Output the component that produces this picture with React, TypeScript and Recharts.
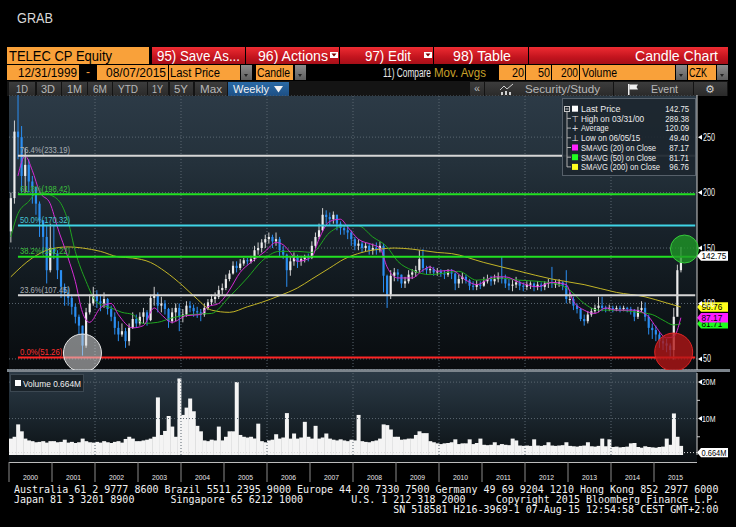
import React from 'react';
import {
  ComposedChart,
  Bar,
  Line,
  XAxis,
  YAxis,
  CartesianGrid,
  ReferenceLine,
  ReferenceDot,
} from 'recharts';

// ---------- categories ----------
const years = ['2000', '2001', '2002', '2003', '2004', '2005', '2006', '2007', '2008', '2009', '2010', '2011', '2012', '2013', '2014', '2015'];
const monthCodes = ['01', '02', '03', '04', '05', '06', '07', '08', '09', '10', '11', '12'];
const months: string[] = years.flatMap((y) => monthCodes.map((m) => `${y}-${m}`));

// ---------- monthly price (CZK) ----------
const firstOpen = 165;
const closeByYear: number[][] = [
  [195, 255, 250, 215, 225, 210, 205, 190, 175, 160, 130, 150],
  [145, 130, 115, 110, 105, 97, 88, 80, 62, 92, 100, 108],
  [102, 100, 104, 95, 88, 78, 72, 75, 66, 78, 86, 82],
  [88, 92, 85, 105, 108, 98, 100, 95, 84, 92, 96, 88],
  [90, 98, 96, 93, 92, 90, 96, 101, 104, 106, 112, 114],
  [122, 127, 134, 132, 136, 139, 138, 140, 148, 150, 155, 158],
  [160, 156, 158, 148, 144, 130, 138, 142, 138, 140, 142, 141],
  [152, 160, 166, 180, 178, 176, 180, 172, 168, 166, 164, 158],
  [152, 154, 150, 152, 148, 150, 148, 152, 125, 108, 125, 128],
  [126, 118, 120, 126, 128, 130, 140, 132, 130, 131, 128, 129],
  [127, 126, 128, 127, 118, 122, 124, 121, 116, 115, 117, 116],
  [120, 122, 120, 122, 124, 122, 118, 116, 117, 119, 116, 115],
  [117, 118, 115, 117, 115, 118, 119, 118, 118, 119, 116, 104],
  [104, 98, 95, 86, 84, 90, 93, 96, 98, 96, 95, 96],
  [95, 96, 95, 96, 95, 94, 88, 94, 96, 88, 78, 76],
  [72, 66, 64, 62, 58, 88, 130, 142.75],
];
const highByYear: number[][] = [
  [200, 265, 289.38, 260, 240, 230, 215, 205, 192, 175, 170, 172],
  [170, 148, 130, 118, 115, 108, 100, 90, 80, 96, 108, 115],
  [112, 108, 110, 105, 98, 92, 84, 82, 78, 82, 92, 90],
  [92, 96, 94, 108, 115, 110, 106, 103, 96, 96, 100, 100],
  [95, 102, 102, 99, 97, 95, 100, 104, 108, 110, 116, 118],
  [126, 130, 138, 138, 140, 141, 141, 143, 152, 155, 158, 162],
  [164, 162, 164, 160, 152, 145, 142, 146, 144, 143, 144, 145],
  [156, 164, 172, 186, 184, 182, 183, 180, 174, 170, 170, 166],
  [160, 158, 156, 155, 154, 154, 155, 156, 154, 126, 130, 132],
  [131, 126, 124, 130, 131, 134, 148, 149, 134, 134, 133, 132],
  [131, 130, 131, 131, 128, 126, 128, 126, 122, 120, 121, 120],
  [124, 126, 125, 126, 128, 142, 126, 122, 121, 124, 121, 119],
  [120, 120, 119, 120, 119, 120, 122, 133, 121, 122, 120, 130],
  [110, 106, 100, 96, 90, 93, 96, 99, 106, 106, 98, 99],
  [98, 98, 98, 98, 97, 97, 95, 97, 102, 101, 90, 82],
  [80, 74, 70, 68, 64, 96, 135, 151],
];
const lowByYear: number[][] = [
  [155, 190, 230, 200, 200, 200, 190, 180, 160, 145, 118, 128],
  [140, 122, 105, 98, 98, 90, 82, 72, 53, 60, 90, 98],
  [96, 93, 96, 90, 84, 72, 66, 70, 60, 62, 77, 78],
  [80, 82, 80, 84, 98, 92, 92, 90, 78, 82, 84, 75],
  [83, 88, 92, 88, 87, 84, 88, 94, 98, 100, 104, 108],
  [112, 120, 126, 128, 130, 134, 135, 136, 138, 144, 146, 150],
  [154, 150, 152, 142, 140, 115, 125, 134, 132, 134, 137, 138],
  [140, 150, 158, 165, 172, 170, 172, 166, 162, 162, 158, 152],
  [148, 148, 146, 147, 144, 144, 144, 146, 110, 96, 104, 120],
  [120, 114, 114, 118, 122, 124, 128, 128, 126, 127, 125, 125],
  [124, 122, 124, 122, 112, 114, 118, 118, 112, 112, 112, 113],
  [115, 118, 116, 117, 119, 118, 114, 112, 111, 114, 112, 111],
  [112, 113, 111, 112, 111, 112, 114, 114, 114, 115, 112, 100],
  [100, 94, 91, 84, 80, 82, 88, 91, 92, 93, 92, 93],
  [92, 93, 92, 93, 92, 90, 84, 86, 92, 84, 72, 68],
  [66, 60, 58, 56, 52, 49.4, 90, 128],
];

// ---------- volume (millions) ----------
const volumeByYear: number[][] = [
  [4.5, 5, 8.4, 6.5, 4.5, 4, 3.8, 3.5, 3.6, 3.8, 3.4, 3.8],
  [3.8, 3.5, 3.6, 4.2, 3.4, 3.6, 3.3, 3.5, 4.5, 3.8, 3.5, 3.4],
  [3.6, 3.4, 3.8, 3.5, 3.3, 3.6, 3.8, 3.4, 4.4, 5, 4.5, 3.8],
  [3.8, 4, 4.2, 4.5, 5, 15.8, 5.5, 6.6, 10.7, 7.8, 5, 21],
  [11, 13, 15.5, 12, 8, 6.5, 4, 3.8, 4.2, 4, 7.8, 4],
  [5, 6.5, 6.5, 20, 5.5, 5, 4.8, 5, 4.5, 8.6, 3.8, 3.5],
  [4, 4.2, 5.7, 4.5, 4.8, 11.5, 4.5, 5.9, 4.5, 4.8, 9.1, 5],
  [4.5, 8, 4.5, 4.8, 5.9, 4.5, 4.2, 4, 4.3, 4, 3.8, 4.2],
  [4, 11, 3.8, 3.6, 3.5, 3.8, 4, 4.5, 8.4, 8.2, 7, 5],
  [5, 4.2, 4.3, 4.5, 4.5, 5.5, 6.5, 6, 6, 3.8, 3.5, 3.2],
  [3, 3.2, 3.3, 3.5, 4.3, 3, 3.2, 3.2, 4.3, 3, 3.3, 4.5],
  [2.8, 2.7, 2.8, 3.5, 2.7, 3, 2.8, 2.7, 4.5, 4, 2.6, 2.5],
  [2.6, 2.5, 4.3, 2.6, 2.5, 2.7, 3.5, 2.6, 2.5, 2.6, 2.7, 3.5],
  [2.5, 2.4, 2.3, 2.5, 2.6, 3.5, 2.4, 2.3, 2.5, 4.5, 2.4, 4.3],
  [2.2, 2.3, 2.1, 2.2, 2.3, 3.2, 3.3, 2.2, 2, 2.4, 2.2, 2.1],
  [2, 2.2, 2.3, 4.5, 2.8, 11.4, 5, 2.5],
];

// ---------- moving averages ----------
const sma20Pts: [string, number][] = [
  ['2000-03', 215], ['2000-05', 233], ['2000-07', 220], ['2000-09', 201], ['2000-12', 190],
  ['2001-02', 169], ['2001-05', 141], ['2001-07', 120], ['2001-09', 92], ['2001-11', 83],
  ['2002-02', 96], ['2002-05', 100], ['2002-07', 90], ['2002-11', 78], ['2003-02', 80],
  ['2003-05', 96], ['2003-07', 90], ['2003-10', 83], ['2004-02', 89], ['2004-06', 90],
  ['2004-08', 97], ['2004-11', 100], ['2005-02', 112], ['2005-05', 128], ['2005-08', 137],
  ['2005-12', 147], ['2006-03', 155], ['2006-05', 153], ['2006-07', 146], ['2006-09', 138],
  ['2007-01', 142], ['2007-03', 158], ['2007-06', 174], ['2007-09', 176], ['2007-11', 169],
  ['2008-02', 158], ['2008-06', 153], ['2008-08', 150], ['2008-10', 133], ['2009-01', 123],
  ['2009-05', 123], ['2009-08', 130], ['2009-10', 133], ['2009-12', 129], ['2010-04', 130],
  ['2010-08', 121], ['2010-11', 117], ['2011-04', 124], ['2011-07', 124], ['2011-11', 119],
  ['2012-04', 115], ['2012-08', 119], ['2012-12', 117], ['2013-02', 102], ['2013-05', 94],
  ['2013-08', 91], ['2013-11', 96], ['2014-02', 94], ['2014-07', 94], ['2014-11', 88],
  ['2015-01', 79], ['2015-04', 69], ['2015-06', 70], ['2015-08', 87.17],
];
const sma50Pts: [string, number][] = [
  ['2000-01', 160], ['2000-03', 181], ['2000-06', 192], ['2000-08', 199], ['2000-10', 200],
  ['2000-12', 198], ['2001-03', 190], ['2001-05', 174], ['2001-07', 147], ['2001-10', 120],
  ['2002-01', 101], ['2002-05', 96], ['2002-08', 92], ['2002-11', 90], ['2003-02', 82],
  ['2003-06', 83], ['2003-10', 87], ['2004-03', 90], ['2004-09', 91], ['2005-02', 106],
  ['2005-07', 123], ['2005-11', 138], ['2006-04', 147], ['2006-09', 147], ['2007-01', 146],
  ['2007-06', 164], ['2007-10', 170], ['2008-02', 170], ['2008-06', 160], ['2008-10', 151],
  ['2009-01', 138], ['2009-05', 130], ['2009-10', 126], ['2010-06', 129], ['2010-11', 121],
  ['2011-05', 123], ['2011-11', 121], ['2012-04', 120], ['2012-10', 117], ['2013-01', 112],
  ['2013-05', 100], ['2013-09', 94], ['2014-02', 94], ['2014-08', 92], ['2014-12', 90],
  ['2015-03', 85], ['2015-06', 80.6], ['2015-08', 81.71],
];
const sma200Pts: [string, number][] = [
  ['2000-01', 124], ['2000-07', 141], ['2000-12', 149], ['2001-05', 151], ['2001-09', 150],
  ['2002-02', 147], ['2002-07', 142], ['2002-11', 141], ['2003-04', 137], ['2003-08', 129],
  ['2004-01', 116], ['2004-05', 104], ['2004-09', 94], ['2005-02', 92], ['2005-07', 97],
  ['2005-11', 101], ['2006-04', 107], ['2006-09', 114], ['2007-01', 122], ['2007-06', 132],
  ['2007-10', 140], ['2008-03', 146], ['2008-08', 149], ['2008-12', 150], ['2009-05', 149],
  ['2009-12', 146], ['2010-04', 145], ['2011-01', 137], ['2011-11', 129], ['2012-08', 122],
  ['2013-05', 117], ['2014-02', 110], ['2014-10', 106], ['2015-04', 100.5], ['2015-08', 96.76],
];

// ---------- Fibonacci retracement ----------
const fibNames = ['76.4%', '61.8%', '50.0%', '38.2%', '23.6%', '0.0%'];
const fibValues = [233.19, 198.42, 170.32, 142.22, 107.45, 51.26];

// ---------- axis ticks / labels ----------
const priceTicks = [50, 100, 150, 200, 250];
const volumeTicks = [5, 10, 15, 20];
const volumeTickLabels: Record<number, string> = { 10: '10M', 20: '20M' };
const gridYears = ['2002', '2004', '2006', '2008', '2010', '2012', '2014'];

// ---------- tags / legend ----------
const lastPrice = 142.75;
const tagValues = { sma50: 81.71, sma20: 87.17, sma200: 96.76 };
const lastVolume = 0.664;
const legendLabels = ['Last Price', 'High on 03/31/00', 'Average', 'Low on 06/05/15', 'SMAVG (20) on Close', 'SMAVG (50) on Close', 'SMAVG (200) on Close'];
const legendValues = ['142.75', '289.38', '120.09', '49.40', '87.17', '81.71', '96.76'];

// highlighted regions (category, value)
const circleGray: [string, number] = ['2001-09', 55.3];
const circleRed: [string, number] = ['2015-06', 56.2];
const circleGreen: [string, number] = ['2015-09', 149.1];

const footerLines = [
  'Australia 61 2 9777 8600 Brazil 5511 2395 9000 Europe 44 20 7330 7500 Germany 49 69 9204 1210 Hong Kong 852 2977 6000',
  'Japan 81 3 3201 8900      Singapore 65 6212 1000        U.S. 1 212 318 2000     Copyright 2015 Bloomberg Finance L.P.',
  '                                                               SN 518581 H216-3969-1 07-Aug-15 12:54:58 CEST GMT+2:00',
];

// ---------- build table ----------
const closes = closeByYear.flat();
const highs = highByYear.flat();
const lows = lowByYear.flat();
const vols = volumeByYear.flat();
const m20 = new Map(sma20Pts);
const m50 = new Map(sma50Pts);
const m200 = new Map(sma200Pts);

const table = months.map((m, i) => {
  const has = i < closes.length;
  return {
    m,
    open: has ? (i === 0 ? firstOpen : closes[i - 1]) : null,
    close: has ? closes[i] : null,
    range: has ? [lows[i], highs[i]] : null,
    sma20: m20.has(m) ? m20.get(m) : null,
    sma50: m50.has(m) ? m50.get(m) : null,
    sma200: m200.has(m) ? m200.get(m) : null,
    vol: i < vols.length ? vols[i] : null,
  };
});

// ---------- styles ----------
const SANS = '"Liberation Sans", Arial, sans-serif';
const MONO = '"DejaVu Sans Mono", "Liberation Mono", monospace';
const ORANGE = '#f9a13a';
const FIB_LINE = ['#d6d6d6', '#22e022', '#3fd4e6', '#22e022', '#d6d6d6', '#ff2424'];
const FIB_TEXT = ['#a8aeb4', '#3cc03c', '#46c4d4', '#3cc03c', '#a8aeb4', '#ff3030'];
const CHART_W = 736;
const LEFT = 9;
const AXIS_W = 39;
const BAND = (CHART_W - LEFT - AXIS_W) / months.length;

// narrow text helper (squeezes glyphs to a given width)
function NT(props: any) {
  const { x, y, w, size, fill, anchor, children, family } = props;
  return (
    <text
      x={x}
      y={y}
      fontSize={size}
      fill={fill}
      fontFamily={family || SANS}
      textAnchor={anchor || 'start'}
      textLength={w}
      lengthAdjust="spacingAndGlyphs"
    >
      {children}
    </text>
  );
}

// ---------- custom shapes ----------
function Candle(props: any) {
  const { x, y, width, height, payload } = props;
  if (!payload || !payload.range) return null;
  const [lo, hi] = payload.range;
  const top0 = Math.min(y, y + height);
  const h = Math.abs(height);
  const k = hi > lo ? h / (hi - lo) : 0;
  const o = payload.open;
  const c = payload.close;
  const bTop = top0 + (hi - Math.max(o, c)) * k;
  const bBot = top0 + (hi - Math.min(o, c)) * k;
  const up = c >= o;
  const col = up ? '#ececec' : '#2b8ef2';
  const cx = x + width / 2;
  const bw = Math.max(2, width * 0.72);
  return (
    <g>
      <line x1={cx} x2={cx} y1={top0} y2={top0 + h} stroke={up ? '#cfcfcf' : '#2b8ef2'} strokeWidth={1} />
      <rect x={cx - bw / 2} y={bTop} width={bw} height={Math.max(1, bBot - bTop)} fill={col} />
    </g>
  );
}

function PriceTick(props: any) {
  const { x, y, payload } = props;
  const s = String(payload.value);
  return (
    <g>
      <path d={`M${x + 1} ${y} l4 -2.5 v5 z`} fill="#ffffff" />
      <NT x={x + 6} y={y + 3.5} size={10} fill="#f0f0f0" w={s.length * 4}>
        {s}
      </NT>
    </g>
  );
}

function VolTick(props: any) {
  const { x, y, payload } = props;
  const lbl = volumeTickLabels[payload.value];
  if (!lbl) {
    return <line x1={x} x2={x + 3} y1={y} y2={y} stroke="#d0d0d0" strokeWidth={1} />;
  }
  return (
    <g>
      <path d={`M${x + 1} ${y} l4 -2.5 v5 z`} fill="#ffffff" />
      <NT x={x + 5} y={y + 3.2} size={9} fill="#f0f0f0" w={lbl.length * 4.5}>
        {lbl}
      </NT>
    </g>
  );
}

function Tag(props: any) {
  const { viewBox, text, bg, fg } = props;
  if (!viewBox) return null;
  const x = viewBox.x + viewBox.width;
  const y = viewBox.y;
  return (
    <g>
      <path d={`M${x} ${y} L${x + 4} ${y - 4.7} H${x + 31} V${y + 4.7} H${x + 4} Z`} fill={bg} />
      <NT x={x + 4.5} y={y + 3.4} size={9.5} fill={fg} w={text.length * 4.15}>
        {text}
      </NT>
    </g>
  );
}

function FibLabel(props: any) {
  const { viewBox, text, color } = props;
  if (!viewBox) return null;
  return (
    <NT x={viewBox.x + 2} y={viewBox.y - 2.5} size={9} fill={color} w={text.length * 3.85}>
      {text}
    </NT>
  );
}

function YearTick(props: any) {
  const { x, y, payload } = props;
  const start = x - BAND / 2;
  const yr = String(payload.value).slice(0, 4);
  return (
    <g>
      <line x1={start} x2={start} y1={y + 7} y2={y + 27} stroke="#8a8a8a" strokeWidth={1} />
      <NT x={start + BAND * 6} y={y + 25} size={8} fill="#e8e8e8" anchor="middle" w={15}>
        {yr}
      </NT>
    </g>
  );
}

// ---------- header pieces ----------
const box = (left: number, top: number, w: number, h: number, extra: any = {}) => ({
  position: 'absolute' as const,
  left,
  top,
  width: w,
  height: h,
  boxSizing: 'border-box' as const,
  ...extra,
});

function DropDown({ left, top }: { left: number; top: number }) {
  return (
    <div style={box(left, top, 11, 15, { background: 'linear-gradient(#8c8c8c,#5e5e5e)' })}>
      <div
        style={{
          position: 'absolute',
          left: 3,
          top: 9,
          width: 0,
          height: 0,
          borderLeft: '2.5px solid transparent',
          borderRight: '2.5px solid transparent',
          borderTop: '3px solid #222',
        }}
      />
    </div>
  );
}

const RED = 'linear-gradient(#ee2c32, #c3141e 60%, #a60f18)';
const TAB = 'linear-gradient(#3c3c3c,#2a2a2a)';

function HeaderBoxes() {
  return (
    <>
      {/* row 1 */}
      <div style={box(7, 47, 142, 17, { background: ORANGE })} />
      <div style={box(152, 47, 93, 17, { background: RED })} />
      <div style={box(246, 47, 93, 17, { background: RED })} />
      <div style={box(340, 47, 93, 17, { background: RED })} />
      <div style={box(434, 47, 94, 17, { background: RED })} />
      <div style={box(529, 47, 199, 17, { background: RED })} />
      {/* row 2 */}
      <div style={box(7, 65, 72, 15, { background: ORANGE })} />
      <div style={box(97, 65, 71, 15, { background: ORANGE })} />
      <div style={box(169, 65, 71, 15, { background: ORANGE })} />
      <DropDown left={241} top={65} />
      <div style={box(256, 65, 37, 15, { background: ORANGE })} />
      <DropDown left={295} top={65} />
      <div style={box(499, 65, 26, 15, { background: ORANGE })} />
      <div style={box(526, 65, 25, 15, { background: ORANGE })} />
      <div style={box(552, 65, 27, 15, { background: ORANGE })} />
      <div style={box(580, 65, 95, 15, { background: ORANGE })} />
      <DropDown left={676} top={65} />
      <div style={box(688, 65, 28, 15, { background: ORANGE })} />
      <DropDown left={717} top={65} />
      {/* row 3 */}
      <div style={box(7, 81, 721, 15, { background: '#141414' })} />
      {[
        [9, 26], [37, 24], [62, 25], [88, 24], [113, 34], [148, 20], [170, 23], [195, 32],
        [470, 14], [485, 128], [614, 79], [694, 33],
      ].map(([l, w]) => (
        <div key={l} style={box(l, 82, w, 14, { background: TAB })} />
      ))}
      <div style={box(228, 82, 61, 14, { background: 'linear-gradient(#2a6aa6,#1d4f84)' })} />
    </>
  );
}

function HeaderTexts() {
  const W = '#ffffff';
  const B = '#000000';
  const G = '#b8b8b8';
  return (
    <svg style={{ position: 'absolute', left: 0, top: 0 }} width={736} height={100}>
      <NT x={17} y={23} size={15} fill="#d8d8d8" w={36}>GRAB</NT>
      <NT x={9} y={60.5} size={15} fill={B} w={103}>TELEC CP Equity</NT>
      <NT x={157} y={60.5} size={15} fill={W} w={83}>95) Save As...</NT>
      <NT x={258} y={60.5} size={15} fill={W} w={70}>96) Actions</NT>
      <rect x={330} y={52} width={8} height={6} fill="#fff" />
      <path d="M331.5 53.5 h5 l-2.5 3 z" fill="#700" />
      <NT x={365} y={60.5} size={15} fill={W} w={46}>97) Edit</NT>
      <rect x={424} y={52} width={8} height={6} fill="#fff" />
      <path d="M425.5 53.5 h5 l-2.5 3 z" fill="#700" />
      <NT x={453} y={60.5} size={15} fill={W} w={58}>98) Table</NT>
      <NT x={635} y={60.5} size={15} fill={W} w={83}>Candle Chart</NT>

      <NT x={18} y={77} size={12} fill={B} w={59}>12/31/1999</NT>
      <NT x={86} y={76} size={12} fill={ORANGE} w={4}>-</NT>
      <NT x={106} y={77} size={12} fill={B} w={60}>08/07/2015</NT>
      <NT x={170} y={77} size={12} fill={B} w={50}>Last Price</NT>
      <NT x={257} y={77} size={12} fill={B} w={33}>Candle</NT>
      <NT x={383} y={77} size={12} fill="#e8e8e8" w={48}>11) Compare</NT>
      <NT x={434} y={77} size={12} fill="#c8a02a" w={52}>Mov. Avgs</NT>
      <NT x={512} y={77} size={12} fill={B} w={12}>20</NT>
      <NT x={538} y={77} size={12} fill={B} w={12}>50</NT>
      <NT x={561} y={77} size={12} fill={B} w={17}>200</NT>
      <NT x={582} y={77} size={12} fill={B} w={35}>Volume</NT>
      <NT x={689} y={77} size={12} fill={B} w={18}>CZK</NT>

      <NT x={16} y={93} size={11.5} fill={G} w={12}>1D</NT>
      <NT x={41} y={93} size={11.5} fill={G} w={14}>3D</NT>
      <NT x={67} y={93} size={11.5} fill={G} w={15}>1M</NT>
      <NT x={93} y={93} size={11.5} fill={G} w={14}>6M</NT>
      <NT x={118} y={93} size={11.5} fill={G} w={20}>YTD</NT>
      <NT x={152} y={93} size={11.5} fill={G} w={11}>1Y</NT>
      <NT x={174} y={93} size={11.5} fill={G} w={14}>5Y</NT>
      <NT x={200} y={93} size={11.5} fill={G} w={22}>Max</NT>
      <NT x={233} y={93} size={11.5} fill="#f2f2f2" w={36}>Weekly</NT>
      <path d="M274 86 h9 l-4.5 6.5 z" fill="#f2f2f2" />
      <NT x={474} y={92} size={10} fill={G} w={6}>«</NT>
      <polyline points="500,90 504,86 507,89 513,84" fill="none" stroke="#d0d0d0" strokeWidth={1} />
      <rect x={501} y={92} width={2} height={3} fill="#d0d0d0" />
      <rect x={505} y={91} width={2} height={4} fill="#d0d0d0" />
      <rect x={509} y={92} width={2} height={3} fill="#d0d0d0" />
      <NT x={525} y={93} size={11.5} fill={G} w={75}>Security/Study</NT>
      <rect x={628} y={84} width={1.5} height={11} fill="#f0f0f0" />
      <path d="M629.5 84.5 H638 L636.5 87 L638 89.5 H629.5 Z" fill="#f0f0f0" />
      <NT x={651} y={93} size={11.5} fill={G} w={27}>Event</NT>
      <text x={710} y={93} fontSize={11} fill="#d0d0d0" textAnchor="middle" fontFamily='"DejaVu Sans", sans-serif'>⚙</text>
    </svg>
  );
}

function Legend() {
  const base = [112, 121.7, 131.4, 141.1, 150.8, 160.5, 170.2];
  const sq = ['#ffffff', null, null, null, '#ff20ff', '#20ff20', '#ffff20'];
  const sym = [null, '⊤', '+', '⊥', null, null, null];
  return (
    <svg style={{ position: 'absolute', left: 0, top: 0 }} width={736} height={200}>
      <rect x={562.5} y={98.5} width={133} height={77} fill="#1c262e" fillOpacity={0.93} stroke="#56606a" />
      <line x1={567} x2={567} y1={111} y2={167} stroke="#b0b0b0" strokeWidth={1} />
      <rect x={564.5} y={106.5} width={5} height={5} fill="#1c262e" stroke="#c8c8c8" />
      <line x1={565.5} x2={568.5} y1={109} y2={109} stroke="#c8c8c8" />
      {legendLabels.map((lab, i) => {
        const cy = base[i] - 3.3;
        return (
          <g key={lab}>
            {i > 0 && <line x1={567} x2={571} y1={cy} y2={cy} stroke="#b0b0b0" />}
            {sq[i] && <rect x={572} y={cy - 3} width={6} height={6} fill={sq[i] as string} />}
            {sym[i] && (
              <text x={575} y={cy + 3.2} textAnchor="middle" fill="#e8e8e8" fontSize={8.5} fontFamily='"DejaVu Sans", sans-serif'>
                {sym[i]}
              </text>
            )}
            <NT x={581} y={base[i]} size={8.5} fill="#ececec" w={lab.length * 3.95}>
              {lab}
            </NT>
            <NT x={689} y={base[i]} size={8.5} fill="#ececec" anchor="end" w={legendValues[i].length * 3.95}>
              {legendValues[i]}
            </NT>
          </g>
        );
      })}
    </svg>
  );
}

export default function App() {
  return (
    <div style={{ position: 'absolute', left: 0, top: 0, width: 736, height: 527, background: '#000', overflow: 'hidden' }}>
      <HeaderBoxes />
      <HeaderTexts />
      {/* panel backgrounds */}
      <div
        style={box(LEFT, 96, 688, 273, {
          background: 'linear-gradient(#2c3a46 0%, #24313b 25%, #18222a 50%, #0f161b 75%, #090c0f 100%)',
        })}
      />
      <div style={box(7, 369, 723, 3, { background: '#7c848c' })} />
      <div
        style={box(LEFT, 372, 688, 90, {
          background: 'linear-gradient(#2c3a46 0%, #1e2a33 40%, #141c22 70%, #0a0e11 100%)',
        })}
      />
      <div style={box(LEFT, 462, 688, 1, { background: '#bcbcbc' })} />

      {/* price chart */}
      <div style={{ position: 'absolute', left: 0, top: 95 }}>
        <ComposedChart width={CHART_W} height={275} data={table} margin={{ top: 0, right: 0, bottom: 0, left: LEFT }}>
          <XAxis dataKey="m" hide />
          <YAxis
            orientation="right"
            width={AXIS_W}
            domain={[40, 288]}
            allowDataOverflow
            ticks={priceTicks}
            interval={0}
            axisLine={{ stroke: '#cfcfcf' }}
            tickLine={false}
            tickSize={0}
            tickMargin={0}
            tick={<PriceTick />}
          />
          <CartesianGrid vertical={false} stroke="#5a6670" strokeDasharray="1 2" />
          {gridYears.map((y) => (
            <ReferenceLine key={y} x={`${y}-01`} position="start" stroke="#5a6670" strokeDasharray="1 2" />
          ))}
          <Bar dataKey="range" isAnimationActive={false} shape={(p: any) => <Candle {...p} />} />
          <Line dataKey="sma200" type="monotone" stroke="#c2b426" strokeWidth={1} dot={false} connectNulls isAnimationActive={false} />
          <Line dataKey="sma50" type="monotone" stroke="#1fa51f" strokeWidth={1} dot={false} connectNulls isAnimationActive={false} />
          <Line dataKey="sma20" type="monotone" stroke="#d62bd6" strokeWidth={1} dot={false} connectNulls isAnimationActive={false} />
          {fibValues.map((v, i) => (
            <ReferenceLine
              key={fibNames[i]}
              segment={[
                { x: '2000-03', y: v },
                { x: months[months.length - 1], y: v },
              ]}
              stroke={FIB_LINE[i]}
              strokeWidth={2}
              label={<FibLabel text={`${fibNames[i]}(${v.toFixed(2)})`} color={FIB_TEXT[i]} />}
            />
          ))}
          <ReferenceDot x={circleGray[0]} y={circleGray[1]} r={19} fill="#d8d8d8" fillOpacity={0.55} stroke="#e8e8e8" strokeWidth={1} />
          <ReferenceDot x={circleRed[0]} y={circleRed[1]} r={19} fill="#b41616" fillOpacity={0.78} stroke="#e02424" strokeWidth={1} />
          <ReferenceDot x={circleGreen[0]} y={circleGreen[1]} r={14} fill="#1f9a26" fillOpacity={0.78} stroke="#36c83c" strokeWidth={1} />
          <ReferenceLine y={lastPrice} stroke="none" label={<Tag text={lastPrice.toFixed(2)} bg="#ffffff" fg="#000" />} />
          <ReferenceLine y={tagValues.sma50} stroke="none" label={<Tag text={tagValues.sma50.toFixed(2)} bg="#1cff1c" fg="#000" />} />
          <ReferenceLine y={tagValues.sma20} stroke="none" label={<Tag text={tagValues.sma20.toFixed(2)} bg="#ff1cff" fg="#000" />} />
          <ReferenceLine y={tagValues.sma200} stroke="none" label={<Tag text={tagValues.sma200.toFixed(2)} bg="#ffff1c" fg="#000" />} />
        </ComposedChart>
      </div>

      {/* volume chart */}
      <div style={{ position: 'absolute', left: 0, top: 373 }}>
        <ComposedChart width={CHART_W} height={114} data={table} margin={{ top: 0, right: 0, bottom: 0, left: LEFT }} barCategoryGap={0}>
          <XAxis
            dataKey="m"
            height={32}
            ticks={years.map((y) => `${y}-01`)}
            interval={0}
            axisLine={false}
            tickLine={false}
            tickSize={0}
            tickMargin={0}
            tick={<YearTick />}
          />
          <YAxis
            orientation="right"
            width={AXIS_W}
            domain={[0, 22.5]}
            allowDataOverflow
            ticks={volumeTicks}
            interval={0}
            axisLine={{ stroke: '#cfcfcf' }}
            tickLine={false}
            tickSize={0}
            tickMargin={0}
            tick={<VolTick />}
          />
          <ReferenceLine y={10} stroke="#5a6670" strokeDasharray="1 2" />
          <ReferenceLine y={20} stroke="#5a6670" strokeDasharray="1 2" />
          {gridYears.map((y) => (
            <ReferenceLine key={y} x={`${y}-01`} position="start" stroke="#5a6670" strokeDasharray="1 2" />
          ))}
          <Bar dataKey="vol" fill="#f4f4f4" isAnimationActive={false} />
          <ReferenceLine
            y={lastVolume}
            stroke="#d8d8d8"
            strokeDasharray="1 2"
            label={<Tag text={`${lastVolume}M`} bg="#ffffff" fg="#000" />}
          />
        </ComposedChart>
      </div>

      {/* volume legend */}
      <div style={box(10, 374, 74, 18, { background: '#1a232a', border: '1px solid #3c4852' })} />
      <svg style={{ position: 'absolute', left: 0, top: 0 }} width={736} height={400}>
        <rect x={15} y={380} width={6} height={6} fill="#ffffff" />
        <NT x={23} y={386.5} size={8.5} fill="#f0f0f0" w={58}>
          Volume 0.664M
        </NT>
      </svg>

      <Legend />

      {/* footer */}
      <div
        style={box(14, 485, 720, 32, {
          color: '#f2f2f2',
          fontFamily: MONO,
          fontSize: 10,
          lineHeight: '10px',
          whiteSpace: 'pre',
        })}
      >
        {footerLines.map((l) => (
          <div key={l}>{l}</div>
        ))}
      </div>
    </div>
  );
}
